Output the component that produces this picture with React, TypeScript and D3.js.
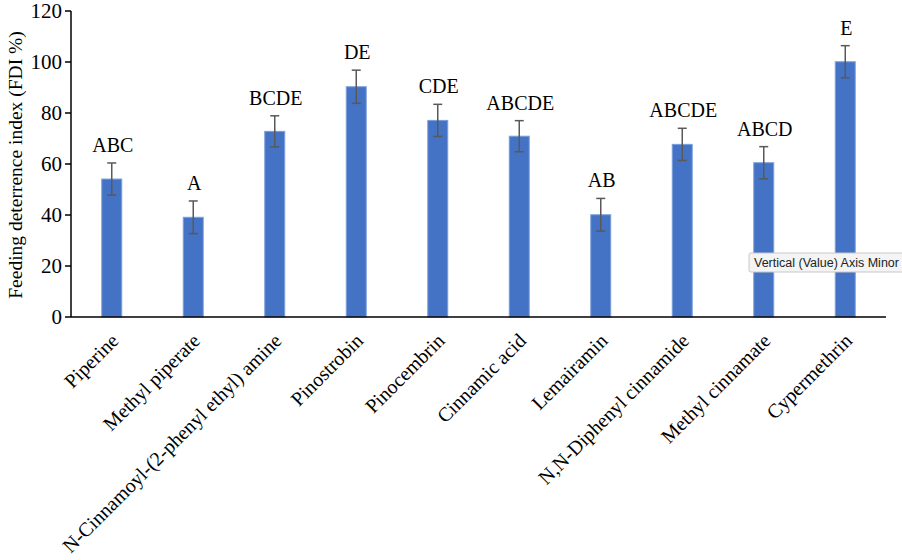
import React from "react";
import * as d3 from "d3";

const categories = [
  "Piperine",
  "Methyl piperate",
  "N-Cinnamoyl-(2-phenyl ethyl) amine",
  "Pinostrobin",
  "Pinocembrin",
  "Cinnamic acid",
  "Lemairamin",
  "N,N-Diphenyl cinnamide",
  "Methyl cinnamate",
  "Cypermethrin",
];
const values = [54.1, 39.1, 72.8, 90.3, 77.1, 70.9, 40.1, 67.7, 60.5, 100.1];
const errors = [6.3, 6.4, 6.1, 6.5, 6.3, 6.1, 6.4, 6.3, 6.3, 6.3];
const letters = ["ABC", "A", "BCDE", "DE", "CDE", "ABCDE", "AB", "ABCDE", "ABCD", "E"];
const yTicks = [0, 20, 40, 60, 80, 100, 120];
const yTitle = "Feeding deterrence index (FDI %)";
const tooltipText = "Vertical (Value) Axis Minor";

export default function App() {
  const W = 902, H = 560;
  const x0 = 71, x1 = 886, yTop = 11, yBot = 317;
  const x = d3.scaleBand<string>().domain(categories).range([x0, x1]).padding(0);
  const y = d3.scaleLinear().domain([0, 120]).range([yBot, yTop]);
  const bw = x.bandwidth() * 0.245;
  const serif = "'Liberation Serif', 'Times New Roman', serif";
  return (
    <svg width={W} height={H} style={{ position: "absolute", left: 0, top: 0, background: "#fff" }}>
      {categories.map((c, i) => {
        const cx = (x(c) as number) + x.bandwidth() / 2;
        return (
          <g key={c}>
            <rect x={cx - bw / 2} y={y(values[i])} width={bw} height={yBot - y(values[i])}
              fill="#4472C4" stroke="#7a9fdc" strokeWidth={1} />
            <line x1={cx} x2={cx} y1={y(values[i] + errors[i])} y2={y(values[i] - errors[i])} stroke="#595959" strokeWidth={1.5} />
            <line x1={cx - 4.5} x2={cx + 4.5} y1={y(values[i] + errors[i])} y2={y(values[i] + errors[i])} stroke="#595959" strokeWidth={1.5} />
            <line x1={cx - 4.5} x2={cx + 4.5} y1={y(values[i] - errors[i])} y2={y(values[i] - errors[i])} stroke="#595959" strokeWidth={1.5} />
            <text x={cx + 1} y={y(values[i] + errors[i]) - 11} textAnchor="middle" fontFamily={serif} fontSize={20} fill="#000">
              {letters[i]}
            </text>
            <text transform={`translate(${cx + 8},${yBot + 25}) rotate(-45)`} textAnchor="end" fontFamily={serif} fontSize={20} fill="#000">
              {c}
            </text>
          </g>
        );
      })}
      <line x1={x0} x2={x1} y1={yBot} y2={yBot} stroke="#000" strokeWidth={1.5} />
      <line x1={x0} x2={x0} y1={yTop} y2={yBot} stroke="#000" strokeWidth={1.5} />
      {yTicks.map((t) => (
        <g key={t}>
          <line x1={x0 - 6} x2={x0} y1={y(t)} y2={y(t)} stroke="#000" strokeWidth={1.5} />
          <text x={x0 - 9} y={y(t)} dy="0.35em" textAnchor="end" fontFamily={serif} fontSize={21} fill="#000">{t}</text>
        </g>
      ))}
      <text transform={`translate(22,${165}) rotate(-90)`} textAnchor="middle" fontFamily={serif} fontSize={19.5} fill="#000">
        {yTitle}
      </text>
      <g>
        <rect x={749} y={253} width={170} height={19} fill="#f4f4f4" stroke="#c8c8c8" strokeWidth={1} rx={2} />
        <text x={754} y={267} fontFamily="'Liberation Sans', Arial, sans-serif" fontSize={12.5} fill="#222">{tooltipText}</text>
      </g>
    </svg>
  );
}
